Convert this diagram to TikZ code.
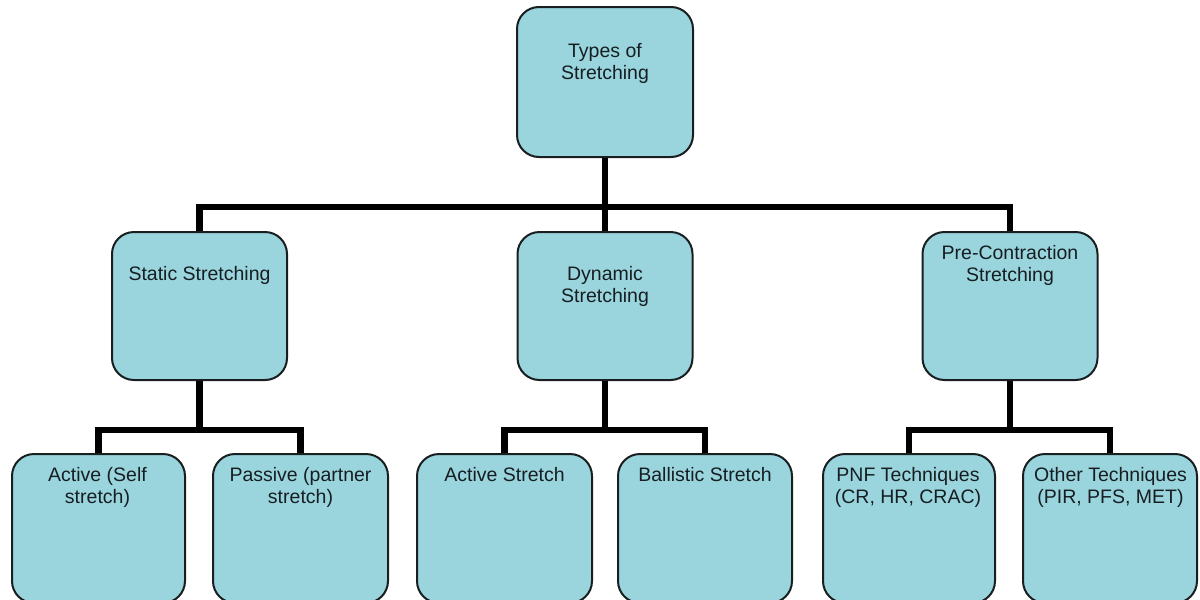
\documentclass[tikz,border=0pt]{standalone}
\usepackage{fontspec}
\setmainfont{Liberation Sans}
\definecolor{boxfill}{RGB}{154,213,222}
\definecolor{boxline}{RGB}{25,30,32}
\definecolor{txtcol}{RGB}{22,30,34}
\begin{document}
\begin{tikzpicture}[x=1pt,y=-1pt,
  box/.style={draw=boxline, fill=boxfill, line width=2pt, rounded corners=22pt,
              minimum width=175pt, minimum height=148pt, inner sep=0pt},
  lbl/.style={anchor=north, inner sep=0pt, align=center, text=txtcol,
              font=\fontsize{19.5}{22}\selectfont},
  conn/.style={draw=black, line width=6.5pt}]
\useasboundingbox (0,0) rectangle (1200,600);
\clip (0,0) rectangle (1200,600);
% level 1
\node[box, minimum width=176pt, minimum height=150pt] (top) at (605,82) {};
% level 2
\node[box] (static) at (199.5,306) {};
\node[box] (dyn) at (605,306) {};
\node[box] (pre) at (1010,306) {};
% level 3
\node[box, minimum width=173pt, minimum height=149pt] (act) at (98.5,528.5) {};
\node[box, minimum width=175pt, minimum height=149pt] (pas) at (300.5,528.5) {};
\node[box, minimum width=175pt, minimum height=149pt] (acts) at (504.5,528.5) {};
\node[box, minimum width=174pt, minimum height=149pt] (bal) at (705,528.5) {};
\node[box, minimum width=172pt, minimum height=149pt] (pnf) at (909,528.5) {};
\node[box, minimum width=174pt, minimum height=149pt] (oth) at (1110,528.5) {};
% labels
\node[lbl] (ttop) at (605,43) {Types of\\Stretching};
\node[lbl] (tstatic) at (199.5,266) {Static Stretching};
\node[lbl] (tdyn) at (605,266) {Dynamic\\Stretching};
\node[lbl] (tpre) at (1010,245) {Pre-Contraction\\Stretching};
\node[lbl] (tact) at (97.5,467) {Active (Self\\stretch)};
\node[lbl] (tpas) at (300.5,467) {Passive (partner\\stretch)};
\node[lbl] (tacts) at (504.5,467) {Active Stretch};
\node[lbl] (tbal) at (705,467) {Ballistic Stretch};
\node[lbl] (tpnf) at (908,467) {PNF Techniques\\(CR, HR, CRAC)};
\node[lbl] (toth) at (1110.5,467) {Other Techniques\\(PIR, PFS, MET)};
% bus coordinates
\coordinate (b1) at (605,207);
\coordinate (b2) at (199.5,430);
\coordinate (b3) at (605,430);
\coordinate (b4) at (1010,430);
% connectors
\draw[conn] (top.south) -- (b1);
\draw[conn] (static.north) |- (b1) -| (pre.north);
\draw[conn] (b1) -- (dyn.north);
\draw[conn] (static.south) -- (b2);
\draw[conn] (act.north) |- (b2) -| (pas.north);
\draw[conn] (dyn.south) -- (b3);
\draw[conn] (acts.north) |- (b3) -| (bal.north);
\draw[conn] (pre.south) -- (b4);
\draw[conn] (pnf.north) |- (b4) -| (oth.north);
\end{tikzpicture}
\end{document}
